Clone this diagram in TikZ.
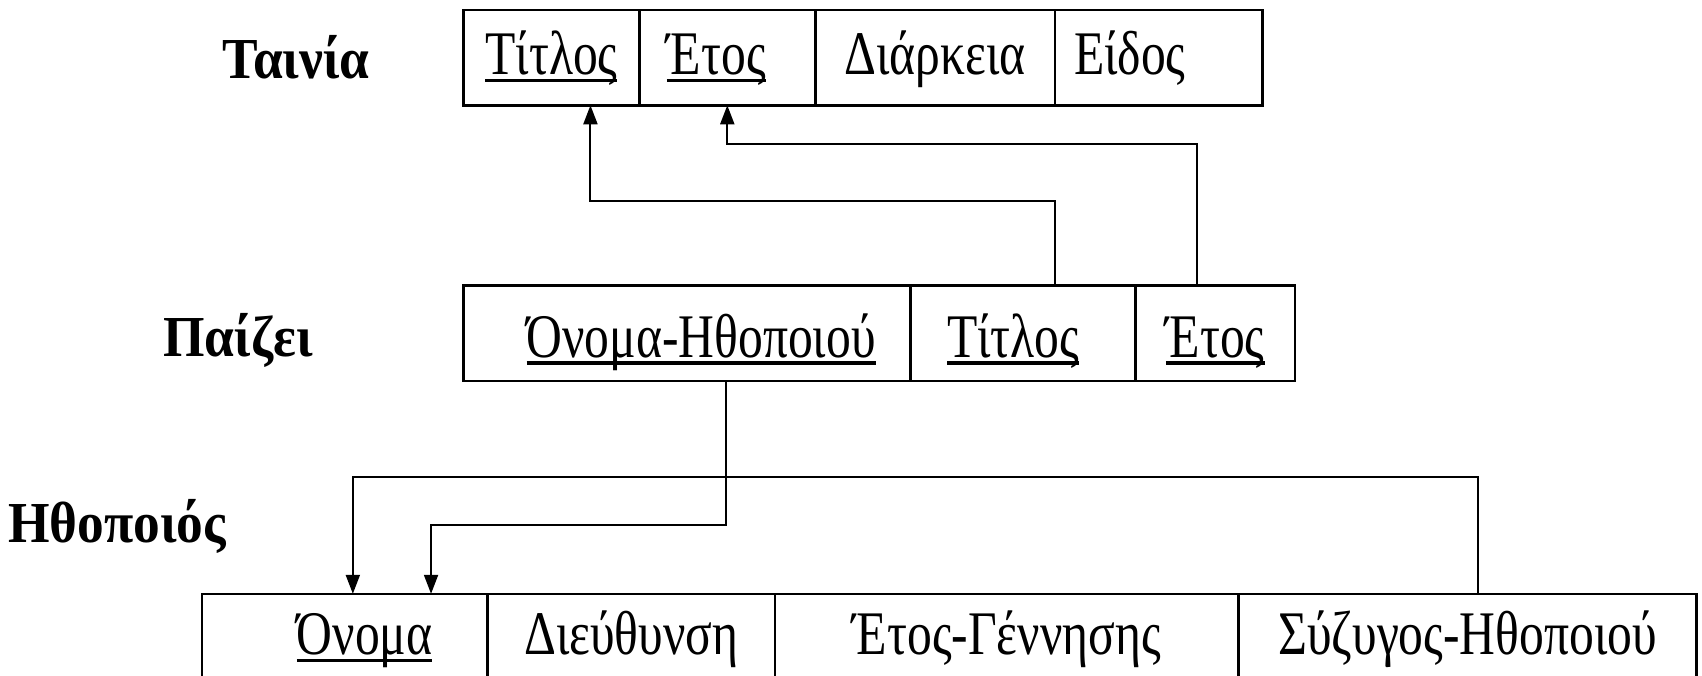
\documentclass[tikz,border=0pt]{standalone}
\usepackage{fontspec}
\setmainfont{Liberation Serif}[FakeStretch=0.8]
\newfontfamily\titlefont{Liberation Serif}[FakeStretch=0.92]
\usepackage{tikz}
\usetikzlibrary{positioning}
\usetikzlibrary{arrows.meta}

\tikzset{
    cell/.style={
        draw,
        rectangle,
        line width=1.3pt,
        minimum height=47.75pt,
        inner sep=0pt,
        outer sep=0pt,
        text height=#1,
        text depth=7pt,
        font=\fontsize{31}{31}\selectfont
    },
    cell/.default=24.2pt,
    relname/.style={
        anchor=base west,
        inner sep=0pt,
        font=\titlefont\bfseries\fontsize{29}{29}\selectfont
    },
    fk/.style={
        line width=1pt,
        -{Triangle[length=9.5pt,width=7pt]}
    }
}

\begin{document}
\begin{tikzpicture}[x=0.5pt, y=-0.5pt]

    \newcommand*{\keyattr}[1]{\setbox0\hbox{#1}\rlap{\rule[-0.12em]{\wd0}{0.055em}}\box0}

    \useasboundingbox (0,0) rectangle (1702,675);
    \clip (0,0) rectangle (1702,675);

    % Relation names
    \node[relname] (nTainia) at (222,78) {Ταινία};
    \node[relname] (nPaizei) at (163,356) {Παίζει};
    \node[relname] (nIthopoios) at (8,542) {Ηθοποιός};

    % Ταινία
    \node[cell, anchor=north west, minimum width=87.95pt] (tTitlos) at (463.5,9.8) {\keyattr{Τίτλος}};
    \node[cell, anchor=west, minimum width=87.9pt, right=0pt of tTitlos] (tEtos) {\keyattr{Έτος}\hspace*{11pt}};
    \node[cell, anchor=west, minimum width=119.95pt, right=0pt of tEtos] (tDiarkeia) {Διάρκεια};
    \node[cell, anchor=west, minimum width=103.65pt, right=0pt of tDiarkeia] (tEidos) {Είδος\hspace*{29pt}};

    % Παίζει
    \node[cell=31.2pt, anchor=north west, minimum width=223.6pt] (pOnoma) at (463.5,285.5) {\hspace*{14pt}\keyattr{Όνομα-Ηθοποιού}};
    \node[cell=31.2pt, anchor=west, minimum width=112.35pt, right=0pt of pOnoma] (pTitlos) {\keyattr{Τίτλος}\hspace*{10pt}};
    \node[cell=31.2pt, anchor=west, minimum width=79.8pt, right=0pt of pTitlos] (pEtos) {\keyattr{Έτος}};

    % Ηθοποιός
    \node[cell=20.2pt, anchor=north west, minimum width=142.75pt] (hOnoma) at (201.9,593.8) {\hspace*{20pt}\keyattr{Όνομα}};
    \node[cell=20.2pt, anchor=west, minimum width=143.85pt, right=0pt of hOnoma] (hDieuthynsi) {Διεύθυνση};
    \node[cell=20.2pt, anchor=west, minimum width=231.75pt, right=0pt of hDieuthynsi] (hEtosGen) {Έτος-Γέννησης};
    \node[cell=20.2pt, anchor=west, minimum width=229.05pt, right=0pt of hEtosGen] (hSyzygos) {Σύζυγος-Ηθοποιού};

    % Foreign keys
    \draw[fk] ([xshift=16pt]pTitlos.north) -- ++(0,-84.7) -| ([xshift=19.5pt]tTitlos.south);
    \draw[fk] ([xshift=-9pt]pEtos.north) -- ++(0,-141.1) -| (tEtos.south);
    \draw[fk] ([xshift=19.5pt]pOnoma.south) -- ++(0,144.4) -| ([xshift=43.2pt]hOnoma.north);
    \draw[fk] ([xshift=5.4pt]hSyzygos.north) -- ++(0,-117.3) -| ([xshift=4.1pt]hOnoma.north);

\end{tikzpicture}
\end{document}
